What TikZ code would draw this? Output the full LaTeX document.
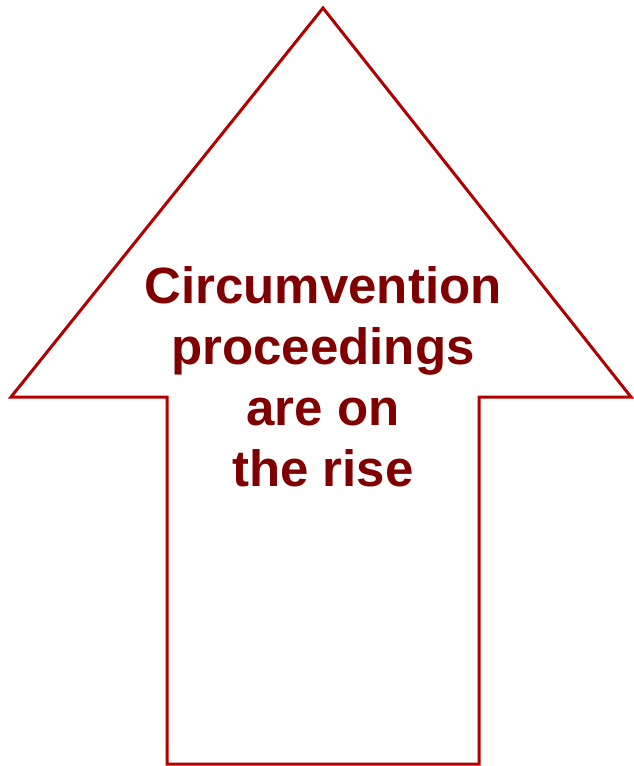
\documentclass[tikz,border=0pt]{standalone}
\usepackage{fontspec}
\setmainfont{Liberation Sans}
\definecolor{outlinered}{RGB}{176,0,0}
\definecolor{textred}{RGB}{128,0,0}
\begin{document}
\begin{tikzpicture}[x=1pt,y=-1pt,
  arrowshape/.style={draw=outlinered,line width=3pt,line join=miter,fill=white},
  label/.style={text=textred,font=\fontsize{51}{61}\selectfont\bfseries,align=center,inner sep=0pt}]
\useasboundingbox (0,0) rectangle (633,766);
\coordinate (tip) at (323,8);
\coordinate (hr) at (631,397);
\coordinate (sr) at (479,397);
\coordinate (br) at (479,764);
\coordinate (bl) at (167,764);
\coordinate (sl) at (167,397);
\coordinate (hl) at (11,397);
\draw[arrowshape] (tip) -- (hr) -- (sr) -- (br) -- (bl) -- (sl) -- (hl) -- cycle;
\node[label] (txt) at (323,377) {Circumvention\\proceedings\\are on\\the rise};
\end{tikzpicture}
\end{document}
